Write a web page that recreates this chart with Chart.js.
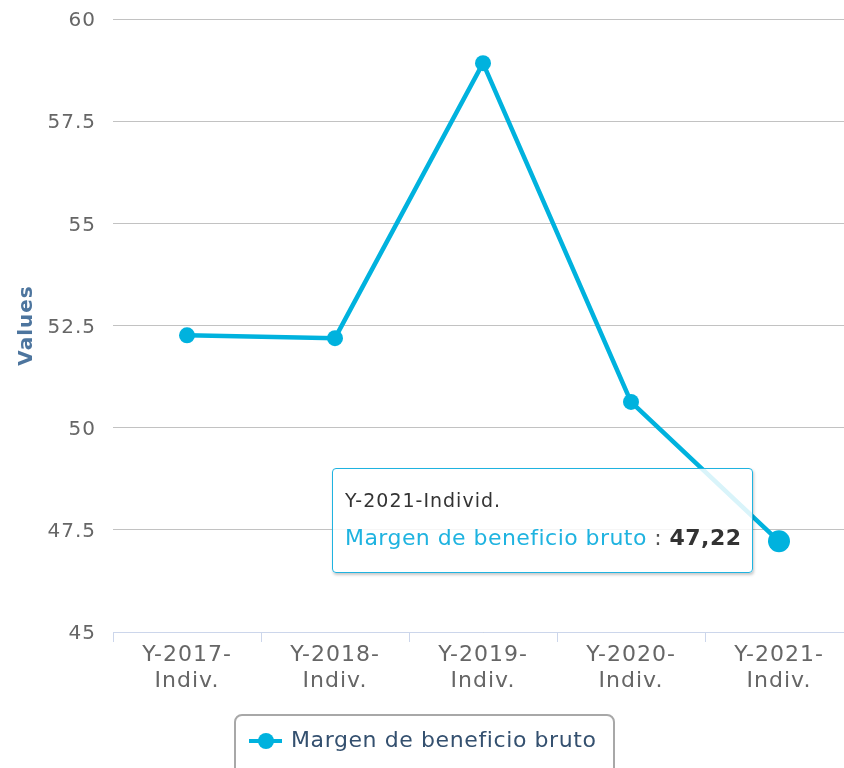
<!DOCTYPE html>
<html>
<head>
<meta charset="utf-8">
<script src="https://cdn.jsdelivr.net/npm/chart.js@4/dist/chart.umd.min.js"></script>
<style>
  html, body { margin: 0; padding: 0; background: #fff; overflow: hidden; }
  #wrap { position: relative; width: 864px; height: 768px; }
  #tip {
    position: absolute;
    background: rgba(255, 255, 255, 0.85);
    border: 1.5px solid #1fb3e0;
    border-radius: 4px;
    box-shadow: 1px 2px 3px rgba(0, 0, 0, 0.22);
    padding: 16px 11px 18px 12px;
    font-family: "DejaVu Sans", sans-serif;
    white-space: nowrap;
  }
  #tip .t { font-size: 19px; color: #333; letter-spacing: 1px; line-height: 30px; }
  #tip .b { font-size: 22px; line-height: 32px; letter-spacing: 0.45px; margin-top: 7px; }
  #tip .n { color: #1fb3e0; }
  #tip .s { color: #555; }
  #tip .v { color: #333; font-weight: bold; }
  #legend {
    position: absolute; left: 234px; top: 714px; width: 381px; height: 70px;
    border: 2px solid #a8a8a8; border-radius: 8px; box-sizing: border-box;
    font-family: "DejaVu Sans", sans-serif;
  }
  #legend .sym { position: absolute; left: 13px; top: 23px; width: 33px; height: 4px; background: #00b2de; }
  #legend .dot { position: absolute; left: 22px; top: 17px; width: 16px; height: 16px; border-radius: 50%; background: #00b2de; }
  #legend .lbl { position: absolute; left: 55px; top: 11px; font-size: 22px; letter-spacing: 0.6px; color: #34506f; }
</style>
</head>
<body>
<div id="wrap">
  <canvas id="chart"></canvas>
  <div id="tip"></div>
  <div id="legend"><div class="sym"></div><div class="dot"></div><div class="lbl"></div></div>
</div>
<script>
const categories = ['Y-2017-Individ.', 'Y-2018-Individ.', 'Y-2019-Individ.', 'Y-2020-Individ.', 'Y-2021-Individ.'];
const tickLabels = [['Y-2017-', 'Indiv.'], ['Y-2018-', 'Indiv.'], ['Y-2019-', 'Indiv.'], ['Y-2020-', 'Indiv.'], ['Y-2021-', 'Indiv.']];
const seriesName = 'Margen de beneficio bruto';
const values = [52.26, 52.19, 58.92, 50.63, 47.22];
const yTicks = [45, 47.5, 50, 52.5, 55, 57.5, 60];
const hoverIndex = 4;

const lineColor = '#00b2de';

// canvas text spacing, reset every time the canvas is resized
const spacing = {
    id: 'spacing',
    beforeLayout(chart) { chart.ctx.letterSpacing = '1px'; },
    beforeDraw(chart) { chart.ctx.letterSpacing = '1px'; }
};

const chart = new Chart(document.getElementById('chart'), {
    type: 'line',
    data: {
        labels: tickLabels,
        datasets: [{
            label: seriesName,
            data: values,
            borderColor: lineColor,
            backgroundColor: lineColor,
            pointHoverBackgroundColor: lineColor,
            borderWidth: 4.5,
            pointRadius: 8,
            pointHoverRadius: 11,
            pointBorderWidth: 0,
            pointHoverBorderWidth: 0,
            tension: 0
        }]
    },
    options: {
        responsive: true,
        maintainAspectRatio: false,
        animation: false,
        events: [],
        layout: { padding: { top: 19, right: 5, left: 0, bottom: 0 } },
        plugins: {
            legend: { display: false },
            tooltip: { enabled: false }
        },
        scales: {
            x: {
                offset: true,
                grid: {
                    display: true,
                    offset: true,
                    drawOnChartArea: false,
                    drawTicks: true,
                    tickLength: 10,
                    color: '#ccd6eb'
                },
                border: { display: true, color: '#ccd6eb', width: 1 },
                ticks: {
                    color: '#666',
                    padding: 1,
                    maxRotation: 0,
                    autoSkip: false,
                    font: { family: 'DejaVu Sans', size: 22, lineHeight: 1.15 }
                },
                afterFit(scale) { scale.height = 136; }
            },
            y: {
                min: 45,
                max: 60,
                afterBuildTicks(scale) { scale.ticks = yTicks.map(v => ({ value: v })); },
                grid: { color: '#c2c2c2', lineWidth: 1, drawTicks: false },
                border: { display: false },
                ticks: {
                    color: '#666',
                    padding: 17,
                    labelOffset: 2,
                    font: { family: 'DejaVu Sans', size: 20, lineHeight: 0.1 },
                    callback: v => String(v)
                },
                title: {
                    display: true,
                    text: 'Values',
                    color: '#4d759e',
                    padding: { top: 15, bottom: 0 },
                    font: { family: 'DejaVu Sans', size: 20, weight: 'bold' }
                },
                afterFit(scale) { scale.width = 113; }
            }
        }
    },
    plugins: [spacing]
});

chart.setActiveElements([{ datasetIndex: 0, index: hoverIndex }]);
chart.update();

// tooltip box next to the hovered point
const pt = chart.getDatasetMeta(0).data[hoverIndex];
const tip = document.getElementById('tip');
tip.innerHTML = '<div class="t">' + categories[hoverIndex] + '</div>' +
    '<div class="b"><span class="n">' + seriesName + '</span><span class="s"> : </span>' +
    '<span class="v">' + values[hoverIndex].toFixed(2).replace('.', ',') + '</span></div>';
tip.style.left = (pt.x - 26 - tip.offsetWidth) + 'px';
tip.style.top = (pt.y - 73) + 'px';

document.querySelector('#legend .lbl').textContent = seriesName;
</script>
</body>
</html>
